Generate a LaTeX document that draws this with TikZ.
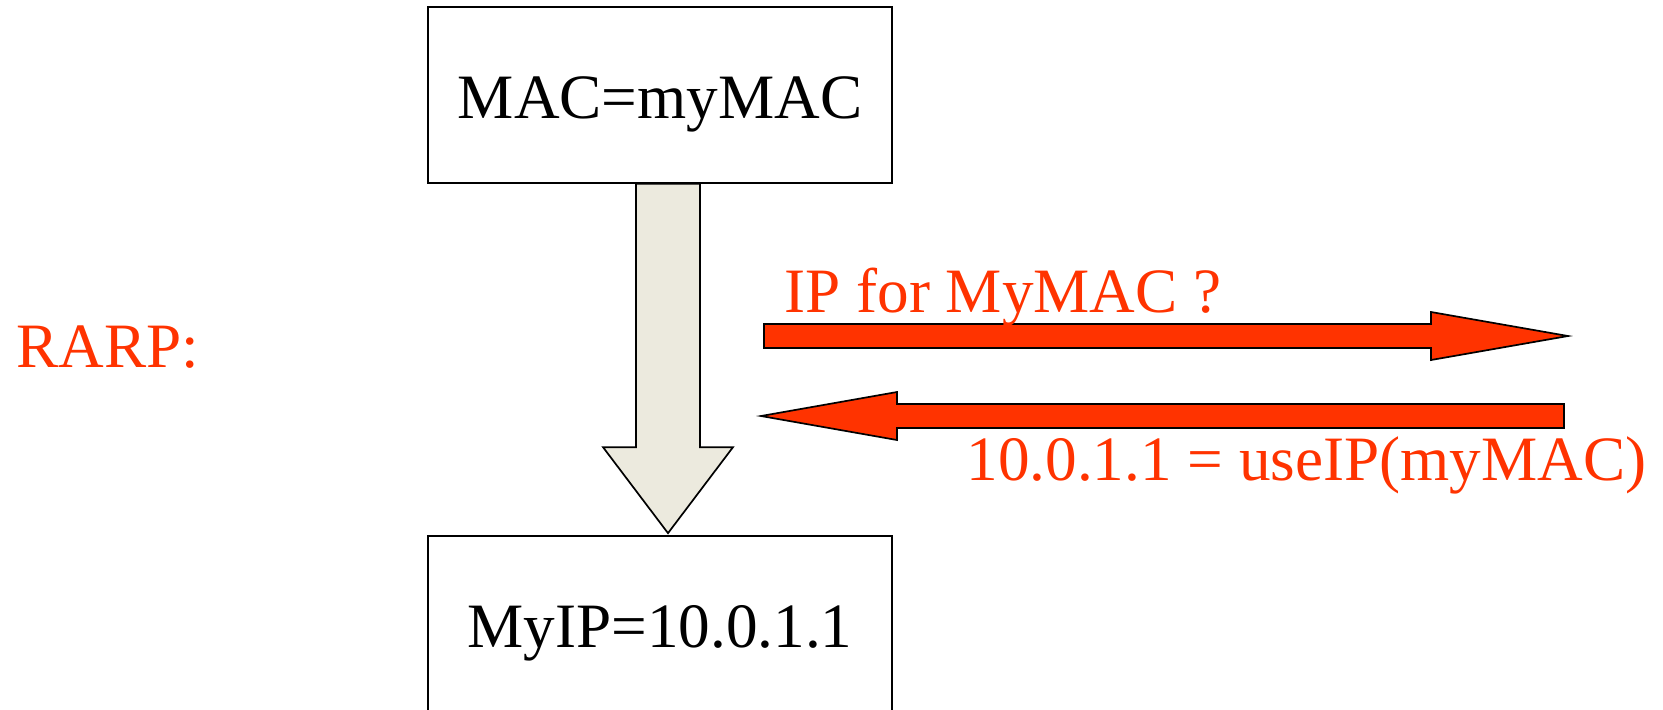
\documentclass[tikz,border=0pt]{standalone}
\usepackage{fontspec}
\setmainfont{Liberation Serif}
\usetikzlibrary{calc}

\definecolor{rarpred}{RGB}{255,51,0}
\definecolor{flowgray}{RGB}{236,234,222}

\tikzset{
  stackbox/.style={draw=black, line width=0.85pt, fill=white,
    minimum width=232pt, minimum height=88pt, inner sep=0pt,
    text height=23pt, text depth=0pt, font=\bigtext},
  redtext/.style={text=rarpred, inner sep=0pt, font=\bigtext},
  bigarrow/.style={draw=black, line width=0.85pt, line join=miter},
}
\newcommand{\bigtext}{\fontsize{31.6}{38}\selectfont}

\begin{document}
\begin{tikzpicture}[x=0.5pt, y=-0.5pt]
  \useasboundingbox (0,0) rectangle (1663,709);
  \clip (0,0) rectangle (1663,709);

  % the two protocol layers
  \node[stackbox] (mac) at (660,95) {MAC=myMAC};
  \node[stackbox] (ip)  at (660,624) {MyIP=10.0.1.1};

  % broad arrow from the MAC layer down to the IP layer
  \coordinate (gtop) at ($(mac.south)+(8,0)$);
  \coordinate (gtip) at ($(ip.north)+(8,-2)$);
  \draw[bigarrow, fill=flowgray]
    ($(gtop)+(-32,0)$) -- ($(gtop)+(32,0)$) -- ($(gtip)+(32,-86)$)
    -- ($(gtip)+(65,-86)$) -- (gtip) -- ($(gtip)+(-65,-86)$)
    -- ($(gtip)+(-32,-86)$) -- cycle;

  % label on the left
  \node[redtext, anchor=base west] (rarp) at (16,367) {RARP:};

  % request going out
  \coordinate (reqA) at (764,336);
  \coordinate (reqB) at (1568,336);
  \draw[bigarrow, fill=rarpred]
    ($(reqA)+(0,-12)$) -- ($(reqB)+(-137,-12)$) -- ($(reqB)+(-137,-24)$)
    -- (reqB) -- ($(reqB)+(-137,24)$) -- ($(reqB)+(-137,12)$)
    -- ($(reqA)+(0,12)$) -- cycle;
  \node[redtext, anchor=base west] (req) at (784,312) {IP for MyMAC ?};

  % reply coming back
  \coordinate (repA) at (1564,416);
  \coordinate (repB) at (761,416);
  \draw[bigarrow, fill=rarpred]
    ($(repA)+(0,-12)$) -- ($(repB)+(136,-12)$) -- ($(repB)+(136,-24)$)
    -- (repB) -- ($(repB)+(136,24)$) -- ($(repB)+(136,12)$)
    -- ($(repA)+(0,12)$) -- cycle;
  \node[redtext, anchor=base west] (rep) at (966,480) {10.0.1.1 = useIP(myMAC)};
\end{tikzpicture}
\end{document}
